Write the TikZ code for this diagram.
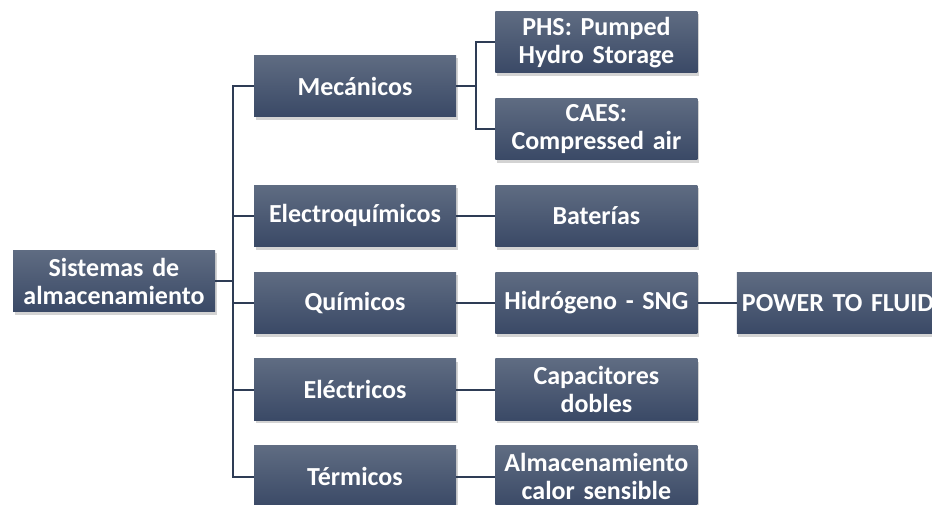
\documentclass[tikz,border=0pt]{standalone}
\usepackage{fontspec}
\setmainfont{Carlito}
\usetikzlibrary{positioning, shadows}
\definecolor{boxtop}{HTML}{5F6C82}
\definecolor{boxbottom}{HTML}{3A4966}
\definecolor{linkblue}{HTML}{2E3C55}

\begin{document}
\begin{tikzpicture}[x=1pt, y=1pt, node distance=25pt and 39pt,
  sysbox/.style={rectangle, top color=boxtop, bottom color=boxbottom, draw=none, minimum width=202pt, minimum height=61.5pt, text width=196pt, inner sep=3pt, align=center, text=white, font=\fontsize{26}{28}\selectfont\bfseries, drop shadow={opacity=0.35, shadow xshift=1.5pt, shadow yshift=-3pt}},
  link/.style={linkblue, line width=2.2pt}]

  \useasboundingbox (0,0) rectangle (932,504);

  % raiz
  \node [sysbox] (root) at (114,223) {Sistemas de\\almacenamiento};

  % tipos de almacenamiento
  \node [sysbox] (mec) at (355,418) {Mecánicos};
  \node [sysbox, below=68pt of mec] (elec) {Electroquímicos};
  \node [sysbox, below=of elec] (quim) {Químicos};
  \node [sysbox, below=of quim] (elect) {Eléctricos};
  \node [sysbox, below=of elect] (term) {Térmicos};

  % tecnologias
  \node [sysbox, above right=-18pt and 39pt of mec] (phs) {PHS: Pumped\\Hydro Storage};
  \node [sysbox, below=of phs] (caes) {CAES:\\Compressed air};
  \node [sysbox, right=of elec] (bat) {Baterías};
  \node [sysbox, right=of quim] (hid) {Hidrógeno - SNG};
  \node [sysbox, right=of elect] (cap) {Capacitores\\dobles};
  \node [sysbox, right=of term] (alm) {Almacenamiento\\calor sensible};
  \node [sysbox, right=of hid] (ptf) {POWER TO FLUID};

  % conexiones
  \coordinate (bus) at ([xshift=18pt]root.east);
  \draw [link] (root.east) -- (bus);
  \foreach \n in {mec, elec, quim, elect, term}
    \draw [link] (bus) |- (\n.west);

  \coordinate (mecbus) at ([xshift=19.5pt]mec.east);
  \draw [link] (mec.east) -- (mecbus);
  \draw [link] (mecbus) |- (phs.west);
  \draw [link] (mecbus) |- (caes.west);

  \draw [link] (elec) -- (bat);
  \draw [link] (quim) -- (hid);
  \draw [link] (hid) -- (ptf);
  \draw [link] (elect) -- (cap);
  \draw [link] (term) -- (alm);
\end{tikzpicture}
\end{document}
